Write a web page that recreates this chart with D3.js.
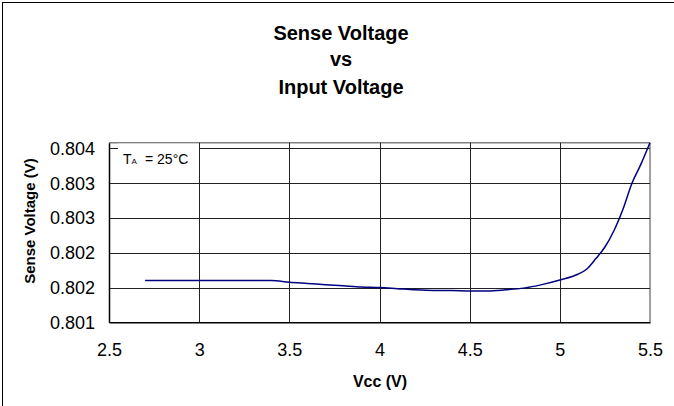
<!DOCTYPE html>
<html><head><meta charset="utf-8">
<script src="https://cdn.jsdelivr.net/npm/d3@7"></script>
<style>body{margin:0;background:#fff}svg{display:block;font-family:Arial,"Liberation Sans",sans-serif}</style>
</head><body><svg id="c" width="674" height="406"></svg>
<script>
const titleLines = ["Sense Voltage", "vs", "Input Voltage"];
const xLabel = "Vcc (V)";
const yLabel = "Sense Voltage (V)";
const noteMain = "T", noteSub = "A", noteRest = "= 25°C";
const xTicks = [2.5, 3, 3.5, 4, 4.5, 5, 5.5];
const xTickLabels = ["2.5", "3", "3.5", "4", "4.5", "5", "5.5"];
const yTicks = [0.801, 0.8016, 0.8022, 0.8028, 0.8034, 0.804];
const yTickLabels = ["0.801", "0.802", "0.802", "0.803", "0.803", "0.804"];
const vcc = [2.7, 2.8, 2.9, 3.0, 3.1, 3.2, 3.3, 3.4, 3.5, 3.6, 3.7, 3.8, 3.9, 4.0, 4.1, 4.2, 4.3, 4.4, 4.5, 4.6, 4.7, 4.8, 4.9, 5.0, 5.1, 5.15, 5.2, 5.25, 5.3, 5.35, 5.4, 5.45, 5.5];
const senseV = [0.80172, 0.80172, 0.80172, 0.80172, 0.80172, 0.80172, 0.80172, 0.80172, 0.80169, 0.80167, 0.80165, 0.80163, 0.80161, 0.80160, 0.80158, 0.80156, 0.80155, 0.80155, 0.80154, 0.80154, 0.80156, 0.80159, 0.80165, 0.80173, 0.80183, 0.80192, 0.80210, 0.80230, 0.80258, 0.80295, 0.80340, 0.80373, 0.8041];

const svg = d3.select("#c");
const L = 109, R = 650, T = 142.7, B = 322.3;
const x = d3.scaleLinear().domain([2.5, 5.5]).range([L, R]);
const y = d3.scaleLinear().domain([0.801, 0.8041]).range([B, T]);
const FONT = "Arial,'Liberation Sans',sans-serif";

// outer frame
svg.append("rect").attr("x", 2.5).attr("y", 2.5).attr("width", 720).attr("height", 500)
  .attr("fill", "none").attr("stroke", "#000").attr("stroke-width", 1);

// titles
const tb = [39.5, 66, 93.5];
svg.selectAll("text.title").data(titleLines).join("text").attr("class", "title")
  .attr("x", 341).attr("y", (d, i) => tb[i]).attr("text-anchor", "middle")
  .attr("font-size", 20).attr("font-weight", "bold").attr("fill", "#000").text(d => d);

// plot border top/right
svg.append("line").attr("x1", L).attr("x2", R).attr("y1", T).attr("y2", T).attr("stroke", "#808080").attr("stroke-width", 1.5);
svg.append("line").attr("x1", R).attr("x2", R).attr("y1", T).attr("y2", B).attr("stroke", "#808080").attr("stroke-width", 1.5);

// gridlines
svg.append("g").selectAll("line").data(yTicks.slice(1)).join("line")
  .attr("x1", L).attr("x2", R).attr("y1", d => Math.round(y(d)) + 0.5).attr("y2", d => Math.round(y(d)) + 0.5)
  .attr("stroke", "#222").attr("stroke-width", 1);
svg.append("g").selectAll("line").data(xTicks.slice(1, -1)).join("line")
  .attr("y1", T).attr("y2", B).attr("x1", d => Math.round(x(d)) + 0.5).attr("x2", d => Math.round(x(d)) + 0.5)
  .attr("stroke", "#222").attr("stroke-width", 1);

// axes
const xAxis = d3.axisBottom(x).tickValues(xTicks).tickSize(0).tickPadding(21)
  .tickFormat((d, i) => xTickLabels[i]);
const gx = svg.append("g").attr("transform", `translate(0,${B})`).call(xAxis);
gx.select(".domain").attr("stroke", "#000").attr("stroke-width", 1.5);
gx.selectAll("text").attr("font-size", 18).attr("font-family", FONT).attr("fill", "#000");

const yAxis = d3.axisLeft(y).tickValues(yTicks).tickSize(0).tickPadding(14)
  .tickFormat((d, i) => yTickLabels[i]);
const gy = svg.append("g").attr("transform", `translate(${L},0)`).call(yAxis);
gy.select(".domain").attr("stroke", "#000").attr("stroke-width", 1.5);
gy.selectAll("text").attr("font-size", 18).attr("font-family", FONT).attr("fill", "#000");

// annotation box
svg.append("rect").attr("x", 118).attr("y", T + 1).attr("width", 81).attr("height", 26).attr("fill", "#fff");
const note = svg.append("text").attr("y", 164).attr("font-size", 14).attr("fill", "#000");
note.append("tspan").attr("x", 123).text(noteMain);
note.append("tspan").attr("font-size", 8).text(noteSub);
note.append("tspan").attr("x", 145).text(noteRest);

// curve
const pts = vcc.map((v, i) => [v, senseV[i]]);
const line = d3.line().x(d => x(d[0])).y(d => y(d[1])).curve(d3.curveMonotoneX);
svg.append("path").datum(pts).attr("d", line).attr("fill", "none").attr("stroke", "#000080").attr("stroke-width", 1.5);

// axis titles
svg.append("text").attr("x", 380).attr("y", 387).attr("text-anchor", "middle")
  .attr("font-size", 16).attr("font-weight", "bold").attr("fill", "#000").text(xLabel);
svg.append("text").attr("transform", `translate(35,221) rotate(-90)`).attr("text-anchor", "middle")
  .attr("font-size", 15).attr("font-weight", "bold").attr("fill", "#000").text(yLabel);
</script></body></html>
